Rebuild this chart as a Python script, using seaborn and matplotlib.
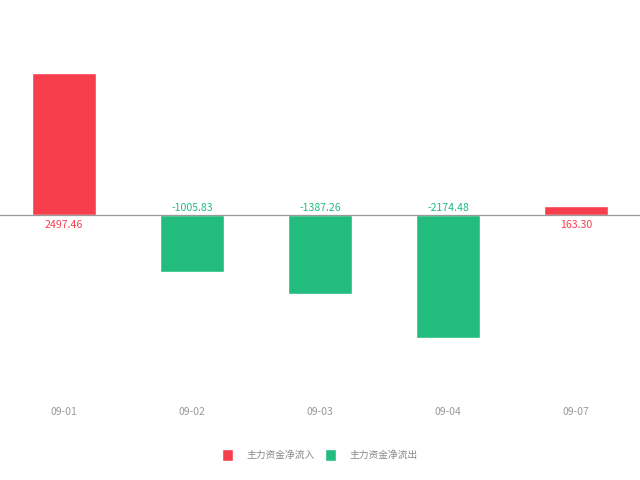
import matplotlib
matplotlib.use("Agg")
import matplotlib.pyplot as plt
from matplotlib.patches import Patch
import seaborn as sns
import pandas as pd

# chart data
dates = ["09-01", "09-02", "09-03", "09-04", "09-07"]
net_flow = [2497.46, -1005.83, -1387.26, -2174.48, 163.30]
inflow_label = "主力资金净流入"
outflow_label = "主力资金净流出"

RED = "#f73e4d"
GREEN = "#22bc7e"

sns.set_style("white")
plt.rcParams["font.family"] = ["Noto Sans CJK SC", "DejaVu Sans"]

df = pd.DataFrame({"date": dates, "value": net_flow})
df["kind"] = [inflow_label if v >= 0 else outflow_label for v in df["value"]]

fig = plt.figure(figsize=(6.4, 4.8), dpi=100)
ax = fig.add_axes([0.0, 1 - 395 / 480, 1.0, (395 - 50) / 480])

sns.barplot(data=df, x="date", y="value", hue="kind",
            palette={inflow_label: RED, outflow_label: GREEN},
            dodge=False, width=0.5, saturation=1, legend=False, ax=ax)

ax.set_xlim(-0.5, 4.5)
ax.set_ylim(-3175, 2905)

# value labels: under the axis for inflow, above it for outflow
for i, v in enumerate(df["value"]):
    if v >= 0:
        ax.annotate(f"{v:.2f}", (i, 0), xytext=(0, -3.5), textcoords="offset points",
                    ha="center", va="top", color=RED, fontsize=7.6)
    else:
        ax.annotate(f"{v:.2f}", (i, 0), xytext=(0, 1.5), textcoords="offset points",
                    ha="center", va="bottom", color=GREEN, fontsize=7.6)

# axis line at zero, ticks between categories
for side in ["left", "right", "top"]:
    ax.spines[side].set_visible(False)
ax.spines["bottom"].set_position(("data", 0))
ax.spines["bottom"].set_color("#999999")
ax.spines["bottom"].set_linewidth(0.9)
ax.set_yticks([])
ax.set_xlabel("")
ax.set_ylabel("")
ax.set_xticks([0.5, 1.5, 2.5, 3.5], minor=True)
ax.tick_params(axis="x", which="minor", length=4, color="#999999", direction="out", width=0.8)
ax.tick_params(axis="x", which="major", length=0, pad=138, labelsize=7.5, labelcolor="#999999")

handles = [Patch(facecolor=RED, label=inflow_label), Patch(facecolor=GREEN, label=outflow_label)]
leg = fig.legend(handles=handles, loc="center", bbox_to_anchor=(0.5, 1 - 455 / 480), ncol=2,
                 frameon=False, fontsize=7, handlelength=1.15, handleheight=1.6,
                 handletextpad=1.4, columnspacing=1.0)
for t in leg.get_texts():
    t.set_color("#888888")

fig.savefig("out.png", dpi=100)
